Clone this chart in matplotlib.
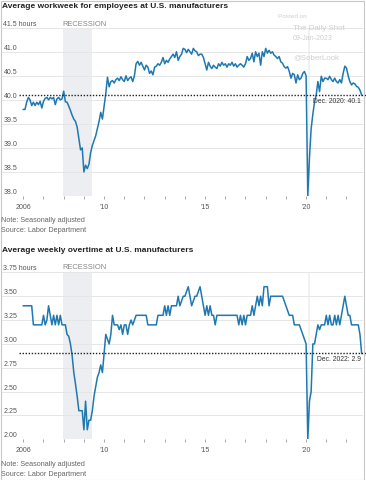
import matplotlib
matplotlib.use("Agg")
import matplotlib.pyplot as plt
import numpy as np
from matplotlib.patches import Rectangle

# monthly, Mar 2006 - Dec 2022
workweek = [
    39.8, 39.8, 39.95, 40.05, 40.0, 39.88, 39.95, 39.88, 39.95, 39.9,
    39.97, 39.83, 39.97, 40.03, 40.05, 40.0, 40.05, 40.02, 40.05, 39.9, 40.02, 40.05,
    40.0, 40.02, 40.18, 39.96, 39.95, 39.87, 39.78, 39.68, 39.6, 39.55, 39.43, 39.2,
    38.96, 39.0, 38.5, 38.64, 38.57, 38.66, 38.9, 39.05, 39.15, 39.25, 39.4, 39.55,
    39.74, 39.6, 39.86, 40.13, 40.47, 40.27, 40.38, 40.4, 40.35, 40.42, 40.45, 40.4,
    40.48, 40.42, 40.38, 40.5, 40.4, 40.45, 40.48, 40.38, 40.5, 40.75, 40.8, 40.72,
    40.78, 40.7, 40.62, 40.72, 40.68, 40.55, 40.6, 40.52, 40.68, 40.7, 40.75, 40.72,
    40.78, 40.88, 40.75, 40.82, 40.78, 40.85, 40.9, 40.95, 40.88, 41.0, 40.82, 40.9,
    40.95, 41.07, 41.05, 40.98, 41.05, 41.0, 40.95, 41.07, 41.02, 41.0, 40.92, 40.95,
    40.95, 40.88, 40.75, 40.62, 40.78, 40.7, 40.65, 40.72, 40.68, 40.65, 40.75, 40.7,
    40.78, 40.72, 40.75, 40.68, 40.75, 40.72, 40.78, 40.7, 40.75, 40.68, 40.72, 40.75,
    40.72, 40.68, 40.75, 40.9, 40.82, 40.86, 40.97, 40.79, 41.0, 40.9, 40.97, 40.72,
    41.0, 40.9, 41.07, 40.97, 41.03, 40.97, 41.0, 40.93, 40.9, 40.86, 40.9, 40.79,
    40.76, 40.69, 40.66, 40.69, 40.59, 40.45, 40.55, 40.52, 40.35, 40.52, 40.42, 40.45,
    40.55, 40.59, 40.5, 38.0, 38.8, 39.4, 39.7, 39.95, 40.1, 40.38, 40.17, 40.49,
    40.38, 40.45, 40.45, 40.42, 40.49, 40.42, 40.38, 40.45, 40.38, 40.35, 40.42, 40.35,
    40.55, 40.7, 40.66, 40.5, 40.38, 40.31, 40.35, 40.33, 40.28, 40.26, 40.2, 40.1,
]

overtime = [
    3.4, 3.4, 3.4, 3.4, 3.4, 3.4, 3.2, 3.2, 3.2, 3.2,
    3.2, 3.2, 3.3, 3.2, 3.25, 3.4, 3.3, 3.2, 3.3, 3.2, 3.3, 3.2,
    3.3, 3.2, 3.2, 3.2, 3.1, 3.08, 3.0, 2.88, 2.7, 2.58, 2.45, 2.3,
    2.3, 2.3, 2.1, 2.4, 2.1, 2.2, 2.2, 2.3, 2.45, 2.55, 2.65, 2.7,
    2.78, 2.7, 2.9, 3.1, 3.05, 3.0, 3.1, 3.3, 3.2, 3.2, 3.2, 3.15,
    3.2, 3.1, 3.2, 3.2, 3.1, 3.2, 3.25, 3.2, 3.25, 3.3, 3.3, 3.3,
    3.3, 3.3, 3.3, 3.3, 3.2, 3.2, 3.2, 3.2, 3.2, 3.2, 3.3, 3.3,
    3.3, 3.3, 3.4, 3.3, 3.4, 3.3, 3.4, 3.4, 3.4, 3.4, 3.5, 3.4,
    3.45, 3.5, 3.5, 3.55, 3.6, 3.5, 3.4, 3.45, 3.5, 3.5, 3.55, 3.6,
    3.5, 3.4, 3.3, 3.4, 3.3, 3.4, 3.3, 3.3, 3.2, 3.3, 3.3, 3.3,
    3.3, 3.3, 3.3, 3.3, 3.3, 3.3, 3.3, 3.3, 3.3, 3.3, 3.2, 3.3,
    3.2, 3.3, 3.2, 3.3, 3.3, 3.3, 3.4, 3.3, 3.4, 3.5, 3.4, 3.5,
    3.4, 3.6, 3.6, 3.6, 3.4, 3.5, 3.5, 3.5, 3.5, 3.5, 3.5, 3.5,
    3.5, 3.45, 3.4, 3.35, 3.3, 3.3, 3.3, 3.2, 3.2, 3.2, 3.2, 3.15,
    3.1, 3.05, 3.0, 2.0, 2.4, 2.5, 3.0, 3.0, 3.1, 3.2, 3.15, 3.2,
    3.2, 3.2, 3.3, 3.2, 3.3, 3.2, 3.2, 3.3, 3.2, 3.3, 3.2, 3.3,
    3.4, 3.5, 3.4, 3.3, 3.3, 3.2, 3.2, 3.2, 3.2, 3.2, 3.1, 2.9,
]

year_ticks = list(range(2006, 2023))
year_labels = {2006: "2006", 2010: "\u201910", 2015: "\u201915", 2020: "\u201920"}

ww_ticks = [38.0, 38.5, 39.0, 39.5, 40.0, 40.5, 41.0, 41.5]
ww_labels = ["38.0", "38.5", "39.0", "39.5", "40.0", "40.5", "41.0", "41.5 hours"]
ot_ticks = [2.0, 2.25, 2.5, 2.75, 3.0, 3.25, 3.5, 3.75]
ot_labels = ["2.00", "2.25", "2.50", "2.75", "3.00", "3.25", "3.50", "3.75 hours"]

recession = (2007.95, 2009.4)
covid = (2020.1, 2020.18)

plt.rcParams["font.family"] = ["Liberation Sans", "DejaVu Sans"]
BLUE = "#1f78b0"
W, H = 366, 480

fig = plt.figure(figsize=(W / 100, H / 100), dpi=100)
fig.patches.append(Rectangle((0.5 / W, 0.5 / H), 363 / W, 478.5 / H, transform=fig.transFigure,
                             fill=False, edgecolor="#c8c8c8", lw=0.8))


def panel(top_px, bot_px, values, ticks, labels, lo, hi, ref, ref_text, ref_y):
    ax = fig.add_axes([2 / W, 1 - bot_px / H, 361 / W, (bot_px - top_px) / H])
    x = 2006 + np.arange(len(values)) / 12
    ax.set_xlim(2006 - 21.3 / 20.2, 2006 + 339.7 / 20.2)
    ax.set_ylim(lo, hi)
    ax.axvspan(*recession, color="#eceef1", lw=0, zorder=0)
    ax.axvspan(*covid, color="#f1f2f4", lw=0, zorder=0)
    for t in ticks:
        ax.axhline(t, color="#e6e6e6", lw=0.7, zorder=1)
    ax.plot(x, values, color=BLUE, lw=1.1, zorder=3)
    ax.plot([2005.8, 2023.2], [ref, ref], color="#222222", lw=1.0, ls=(0, (1, 1.2)),
            zorder=4, clip_on=False)
    ax.text(2022.72, ref_y, ref_text, ha="right", va="center", fontsize=4.9, color="#333333",
            zorder=5)
    for t, lab in zip(ticks, labels):
        ax.text(0.004, t, lab, transform=ax.get_yaxis_transform(), ha="left", va="bottom",
                fontsize=5.0, color="#555555")
    ax.set_yticks([])
    ax.set_xticks(year_ticks)
    ax.set_xticklabels([year_labels.get(y, "") for y in year_ticks])
    ax.tick_params(axis="x", length=2, width=0.6, color="#999999", pad=3.5, labelsize=5.0,
                   labelcolor="#555555")
    for s in ax.spines.values():
        s.set_visible(False)
    ax.patch.set_alpha(0)
    return ax


panel(27.7, 196, workweek, ww_ticks, ww_labels, 38.0, 41.5, 40.1, "Dec. 2020: 40.1", 39.975)
panel(272.4, 439.3, overtime, ot_ticks, ot_labels, 2.0, 3.75, 2.9, "Dec. 2022: 2.9", 2.84)

fig.text(2 / W, 1 - 6.7 / H, "Average workweek for employees at U.S. manufacturers",
         fontsize=6.0, fontweight="bold", color="#222222", va="center")
fig.text(2 / W, 1 - 250 / H, "Average weekly overtime at U.S. manufacturers",
         fontsize=6.0, fontweight="bold", color="#222222", va="center")

for yc in (24, 267.7):
    fig.text(62.7 / W, 1 - yc / H, "RECESSION", fontsize=5.4, color="#888888", va="center")

for y1, y2 in ((220.7, 231), (464.3, 475)):
    fig.text(1 / W, 1 - y1 / H, "Note: Seasonally adjusted", fontsize=5.2, color="#666666",
             va="center")
    fig.text(1 / W, 1 - y2 / H, "Source: Labor Department", fontsize=5.2, color="#666666",
             va="center")

# watermark
wm = "#cfcfcf"
fig.text(278 / W, 1 - 17 / H, "Posted on", fontsize=4.6, color=wm, va="center")
fig.text(293 / W, 1 - 28 / H, "The Daily Shot", fontsize=5.7, color=wm, va="center")
fig.text(293 / W, 1 - 39 / H, "09-Jan-2023", fontsize=5.0, color=wm, va="center")
fig.text(293 / W, 1 - 58 / H, "@SoberLook", fontsize=5.7, color=wm, va="center")

fig.savefig("out.png", dpi=100)
